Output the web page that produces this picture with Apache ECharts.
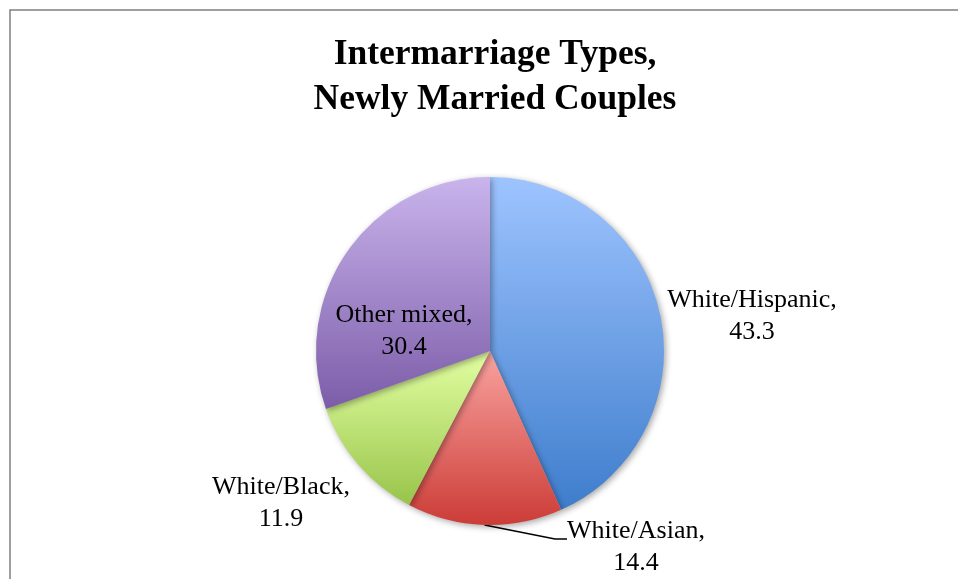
<!DOCTYPE html>
<html>
<head>
<meta charset="utf-8">
<script src="https://cdn.jsdelivr.net/npm/echarts@6/dist/echarts.min.js"></script>
<style>
  html, body { margin: 0; padding: 0; background: #fff; }
  #main { width: 958px; height: 579px; }
</style>
</head>
<body>
<div id="main"></div>
<script>
// data
var categories = ['White/Hispanic', 'White/Asian', 'White/Black', 'Other mixed'];
var values = [43.3, 14.4, 11.9, 30.4];

// slice gradients (top -> bottom)
var topColors = ['#9ec4ff', '#f9a3a0', '#e2ffa2', '#c9b4ec'];
var bottomColors = ['#3e7dcc', '#cc3c37', '#98c44a', '#7c5ca8'];

// label centres
var labelPos = [[752, 316], [636, 539], [281, 503], [404, 331]];

var myChart = echarts.init(document.getElementById('main'));

var pieData = categories.map(function (name, i) {
    return {
        name: name,
        value: values[i],
        itemStyle: {
            color: new echarts.graphic.LinearGradient(0, 0, 0, 1, [
                {offset: 0, color: topColors[i]},
                {offset: 1, color: bottomColors[i]}
            ])
        },
        labelLine: {show: name === 'White/Asian'}
    };
});

var option = {
    backgroundColor: '#fff',
    animation: false,
    graphic: [
        {
            type: 'rect',
            shape: {x: 10, y: 10, width: 1200, height: 1200},
            style: {fill: 'none', stroke: '#808080', lineWidth: 1.5},
            silent: true
        }
    ],
    title: {
        text: 'Intermarriage Types,\nNewly Married Couples',
        left: 495,
        top: 32,
        padding: 0,
        textAlign: 'center',
        textStyle: {
            fontFamily: 'Liberation Serif',
            fontWeight: 'bold',
            fontSize: 35.5,
            lineHeight: 45,
            color: '#000'
        }
    },
    series: [
        {
            type: 'pie',
            center: [490, 351],
            radius: 174,
            startAngle: 90,
            clockwise: true,
            avoidLabelOverlap: false,
            itemStyle: {
                shadowBlur: 6,
                shadowOffsetX: 2,
                shadowOffsetY: 2,
                shadowColor: 'rgba(0,0,0,0.35)'
            },
            label: {
                show: true,
                position: 'outside',
                formatter: function (p) {
                    var txt = p.name + ',\n' + p.value;
                    // empty top line so the leader line meets the first text line
                    return p.name === 'White/Asian' ? '{pad| }\n' + txt : txt;
                },
                fontFamily: 'Liberation Serif',
                fontSize: 26,
                lineHeight: 32,
                color: '#000',
                align: 'center',
                rich: {
                    pad: {fontSize: 8, lineHeight: 16, height: 16}
                }
            },
            labelLine: {
                length: 10,
                length2: 12,
                lineStyle: {color: '#000', width: 1.5}
            },
            labelLayout: function (params) {
                var p = labelPos[params.dataIndex];
                return {x: p[0], y: p[1], align: 'center', verticalAlign: 'middle'};
            },
            emphasis: {disabled: true},
            data: pieData
        }
    ]
};

myChart.setOption(option);
</script>
</body>
</html>
